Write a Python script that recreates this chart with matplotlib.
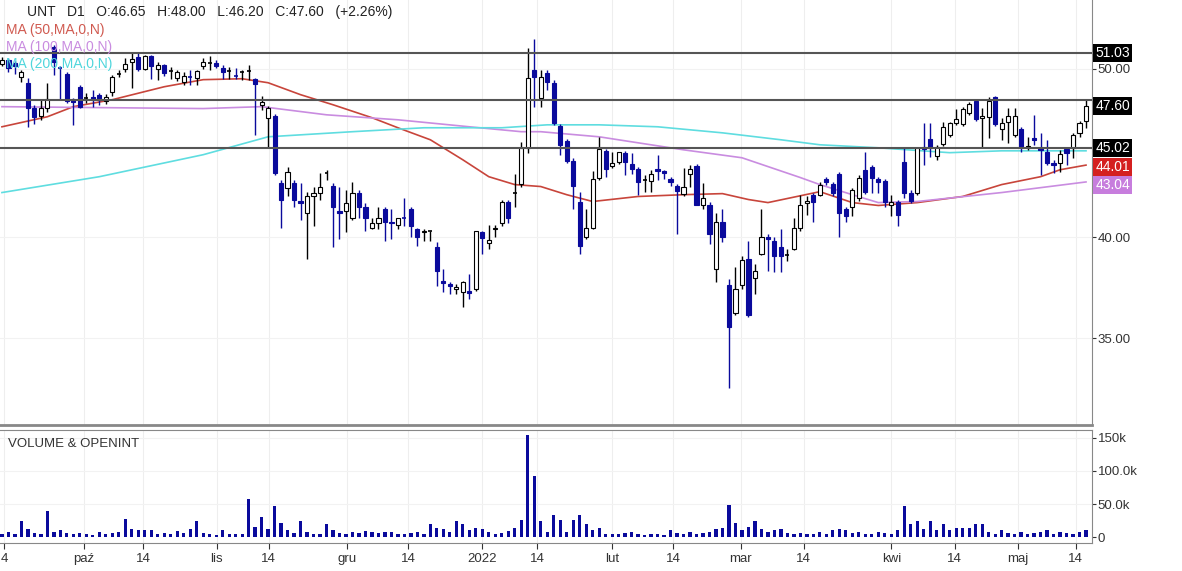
import matplotlib
matplotlib.use("Agg")
import matplotlib.pyplot as plt
import matplotlib.transforms as mtrans
import numpy as np

plt.rcParams['font.family'] = ['Liberation Sans', 'DejaVu Sans']

opens = [50.34,50.60,50.40,49.47,49.08,47.49,46.98,47.49,51.48,50.07,49.67,47.99,48.82,48.12,48.18,48.31,47.93,48.50,49.67,50.00,
 50.47,50.80,50.00,50.87,50.00,50.27,49.87,49.41,49.15,49.47,49.41,50.20,50.40,50.40,50.07,49.87,49.54,49.80,49.87,49.34,
 47.67,46.86,46.98,43.00,42.72,43.00,41.99,41.28,42.27,42.44,43.57,42.83,41.44,41.39,41.06,42.44,41.66,40.47,40.79,41.55,
 40.84,40.68,41.06,41.50,40.42,40.26,40.31,39.47,37.74,37.59,37.34,37.20,37.24,37.34,40.26,39.68,40.42,40.79,41.94,42.38,
 42.95,45.03,49.93,48.12,49.74,49.08,46.36,45.45,44.26,41.94,40.04,40.52,43.29,44.85,43.97,44.21,44.74,44.09,43.80,43.17,
 43.12,43.80,43.68,43.23,42.83,42.38,43.51,43.97,41.72,41.77,38.34,40.84,37.54,36.17,37.54,38.85,37.89,39.15,40.04,39.78,
 39.47,39.05,39.41,40.52,41.83,42.32,42.32,43.23,42.95,43.51,41.50,41.61,42.11,43.74,43.91,43.23,43.12,41.72,41.94,44.21,
 42.44,42.44,45.09,45.57,44.56,45.27,45.81,46.55,46.48,47.17,47.93,46.86,46.92,48.18,46.18,46.61,45.81,46.18,45.03,45.63,
 45.03,44.79,44.15,44.15,44.97,45.03,45.93,46.65]
highs = [50.80,50.74,50.53,49.93,49.41,47.67,47.99,49.08,51.62,50.20,49.80,48.12,48.95,48.44,48.63,48.44,48.37,49.60,49.93,50.74,
 51.14,51.08,50.94,50.94,50.47,50.34,50.13,49.93,49.80,49.93,49.93,50.74,50.87,50.60,50.27,50.13,50.07,49.93,50.27,49.41,
 48.25,47.61,47.11,43.17,43.91,43.17,43.00,42.49,42.78,43.57,43.74,43.00,42.78,42.60,43.06,42.60,41.88,41.01,41.61,41.66,
 41.50,41.06,42.11,41.61,40.52,40.42,40.31,39.73,38.34,37.69,37.59,37.74,38.09,40.31,40.31,40.63,40.68,42.05,42.05,43.51,
 45.39,51.41,52.03,49.93,49.93,49.28,46.48,45.57,44.44,42.49,41.50,43.68,45.69,44.97,44.79,44.79,44.85,44.74,43.91,43.46,
 43.74,44.62,43.74,43.34,42.95,43.86,44.03,44.09,43.00,41.94,41.33,41.50,37.84,38.44,39.00,39.78,38.59,41.50,40.15,40.04,
 40.42,39.36,41.06,42.32,42.27,42.44,43.06,43.34,43.06,43.63,41.61,42.72,43.46,44.79,44.03,43.34,43.23,42.32,42.05,45.03,
 42.60,45.03,46.55,46.55,45.21,46.61,46.61,47.43,47.55,47.87,48.06,47.49,48.18,48.25,46.86,47.49,47.49,46.30,45.69,47.04,
 45.93,45.51,44.32,44.91,45.09,45.93,46.67,48.00]
lows = [50.20,49.80,49.67,49.15,46.30,46.48,46.73,47.24,49.60,47.99,47.80,46.42,47.49,47.80,47.55,47.67,47.74,48.25,49.47,49.80,
 48.76,49.87,49.93,49.34,49.28,49.54,49.34,49.21,48.95,48.95,48.95,50.00,49.93,50.07,49.34,49.34,49.34,49.28,49.28,45.81,
 47.36,45.03,43.46,40.52,42.22,41.61,40.95,38.85,40.58,42.05,43.17,39.47,39.89,40.26,40.95,41.06,40.31,40.42,40.42,39.78,
 39.89,40.42,40.58,40.04,39.52,39.78,39.78,37.49,37.20,37.10,37.10,36.46,36.85,37.24,39.10,39.36,40.04,40.58,40.79,41.66,
 42.78,44.74,47.55,47.55,48.63,46.42,44.62,44.15,41.50,39.10,39.89,40.42,43.17,43.34,43.86,44.09,43.46,43.51,42.32,42.49,
 42.49,43.17,43.23,42.83,40.15,42.27,42.78,41.72,41.50,39.62,37.69,39.73,32.77,36.08,37.34,35.98,37.10,39.05,38.24,38.19,
 38.19,38.74,39.31,40.31,41.22,40.84,42.22,42.89,42.27,40.04,40.84,41.12,41.99,42.38,42.44,42.44,41.61,41.12,40.58,42.11,
 41.83,42.32,44.03,44.50,44.32,45.15,45.69,46.42,46.36,47.04,46.67,45.03,45.63,46.36,45.51,45.33,45.69,44.79,44.91,45.21,
 43.46,44.03,43.57,43.63,44.03,44.44,45.69,46.20]
closes = [50.60,50.07,50.20,49.80,47.49,46.92,47.49,48.06,50.47,50.00,47.93,47.87,47.55,48.12,47.99,47.99,48.18,49.47,49.67,50.34,
 50.67,50.00,50.87,50.20,50.27,49.74,49.87,49.80,49.54,49.41,49.87,50.47,50.40,50.20,49.80,49.87,49.47,49.80,49.87,49.02,
 47.87,47.49,43.57,42.05,43.63,42.05,41.88,42.22,42.44,42.78,43.57,41.66,41.33,41.83,42.44,41.66,41.06,40.79,41.01,40.84,
 40.74,41.01,41.01,40.58,40.04,40.36,40.31,38.24,37.64,37.49,37.44,37.69,37.15,40.31,39.94,39.84,40.52,41.94,41.06,42.44,
 45.03,49.41,49.47,49.47,49.15,46.55,45.21,44.26,42.83,39.52,40.47,43.23,44.97,43.80,44.15,44.79,44.21,43.80,43.06,43.17,
 43.51,43.68,43.57,43.06,42.55,42.78,43.80,41.77,42.11,40.15,40.84,39.99,35.51,37.34,38.80,36.08,38.24,40.04,39.89,39.00,
 39.00,39.05,40.47,41.77,41.99,41.94,42.89,43.06,42.44,41.33,41.12,42.60,43.29,42.49,43.29,43.06,41.94,41.94,41.22,42.44,
 41.99,45.03,44.97,45.03,45.09,46.30,46.55,46.79,47.43,47.74,46.79,46.98,47.93,46.48,46.55,46.98,46.98,45.09,45.15,45.51,
 44.91,44.15,44.03,44.68,44.74,45.81,46.55,47.60]

volume_k = [4,8,5,24,12,6,4,40,8,10,6,4,6,5,3,8,4,6,7,28,
 12,10,11,10,5,6,4,9,6,12,25,6,5,3,11,4,4,4,58,15,
 31,12,47,22,10,6,25,8,5,4,20,10,6,4,7,6,9,8,6,7,
 8,5,4,6,8,5,19,13,12,8,24,20,10,14,12,7,4,6,9,14,
 26,155,93,24,8,33,26,8,26,33,19,10,14,5,4,5,6,7,4,3,
 4,5,3,10,6,5,8,4,6,7,12,14,49,22,10,15,24,12,8,10,
 12,6,4,6,5,4,7,5,11,12,10,6,8,5,4,8,6,5,10,47,
 20,24,12,24,10,19,10,13,14,13,19,19,7,5,10,6,4,8,5,6,
 7,10,5,7,6,5,7,10]

ma50_idx = [0,7,11,17,25,31,37,41,46,51,57,61,66,71,75,79,83,87,91,98,105,111,115,118,126,131,135,141,148,154,160,163,167]
ma50_val = [46.30,46.92,47.55,47.99,48.82,49.28,49.34,49.08,48.31,47.67,46.86,46.24,45.51,44.32,43.34,42.89,42.78,42.32,41.94,42.22,
 42.32,42.38,42.05,41.88,42.49,41.88,41.72,41.88,42.22,42.89,43.34,43.74,44.01]
ma100_idx = [0,15,31,40,50,61,72,80,83,92,105,114,123,126,131,135,141,154,167]
ma100_val = [47.55,47.49,47.43,47.55,47.04,46.73,46.30,46.00,46.00,45.69,44.91,44.44,43.29,42.89,42.32,41.88,41.94,42.44,43.04]
ma200_idx = [0,15,31,41,54,65,77,84,92,101,111,120,126,135,146,154,167]
ma200_val = [42.44,43.34,44.62,45.69,46.00,46.24,46.24,46.42,46.42,46.30,45.93,45.51,45.21,45.03,44.74,44.85,44.85]

level_lines = [51.03, 48.0, 45.02]
price_ticks = [35.0, 40.0, 50.0]
x_tick_pos = [0.3, 12.6, 21.8, 33.1, 41.1, 53.1, 62.6, 74.0, 82.5, 94.0, 103.4, 113.8, 123.5, 137.0, 146.8, 156.5, 165.4]
x_tick_lab = ['4', 'paź', '14', 'lis', '14', 'gru', '14', '2022', '14', 'lut', '14', 'mar', '14', 'kwi', '14', 'maj', '14']

W, H = 1182, 571
fig = plt.figure(figsize=(W/100, H/100), dpi=100)
right = 1092 / W
ax = fig.add_axes([0, 1 - 425/H, right, 425/H])
axv = fig.add_axes([0, 1 - 543/H, right, 113/H], sharex=ax)

BLUE = '#0a0a9c'
n = len(closes)
xs = np.arange(n)
ax.set_yscale('log')
ax.set_ylim(31.2, 54.76)
ax.set_xlim(-0.3, 167 + (1092 - 1086) / 6.5)

for i in range(n):
    o, h, l, c = opens[i], highs[i], lows[i], closes[i]
    down = c < o
    col = BLUE if down else 'black'
    ax.vlines(i, l, h, color=col, lw=1, zorder=3)
    lo, hi = min(o, c), max(o, c)
    if hi / lo < 1.002:
        ax.hlines((o + c) / 2, i - 0.3, i + 0.3, color=col, lw=1.2, zorder=4)
    else:
        ax.add_patch(plt.Rectangle((i - 0.32, lo), 0.64, hi - lo,
                                   facecolor=BLUE if down else 'white',
                                   edgecolor=col, lw=0.8, zorder=4))

ax.plot(ma50_idx, ma50_val, color='#c8453b', lw=1.2, zorder=2)
ax.plot(ma100_idx, ma100_val, color='#c98ce0', lw=1.2, zorder=2)
ax.plot(ma200_idx, ma200_val, color='#5fdde0', lw=1.2, zorder=2)
for lv in level_lines:
    ax.axhline(lv, color='#555555', lw=1.5, zorder=5)

for a in (ax, axv):
    for p in x_tick_pos:
        a.axvline(p, color='#eeeeee', lw=0.8, zorder=0)
    for s in ['left', 'top']:
        a.spines[s].set_visible(False)
    a.spines['right'].set_color('#888888')
    a.spines['bottom'].set_color('#888888')
    a.yaxis.tick_right()
    a.tick_params(axis='y', labelsize=9.5, colors='#333333', length=3, pad=1)
for p in price_ticks:
    ax.axhline(p, color='#f2f2f2', lw=0.8, zorder=0)
ax.set_yticks(price_ticks)
ax.set_yticklabels(['%.2f' % v for v in price_ticks])
ax.yaxis.set_minor_locator(matplotlib.ticker.NullLocator())
ax.yaxis.set_minor_formatter(matplotlib.ticker.NullFormatter())
ax.tick_params(axis='x', bottom=False, labelbottom=False)
ax.spines['bottom'].set_linewidth(2)

tr = mtrans.blended_transform_factory(ax.transAxes, ax.transData)
labels = [(51.03, '51.03', 'black'), (47.60, '47.60', 'black'), (45.02, '45.02', 'black'),
          (44.01, '44.01', '#d42020'), (43.04, '43.04', '#c77ddd')]
for v, t, c in labels:
    yy = v
    if t == '44.01':
        yy = 43.92
    if t == '43.04':
        yy = 42.85
    ax.text(1.003, yy, t, transform=tr, color='white', fontsize=10, va='center', ha='left',
            clip_on=False, bbox=dict(boxstyle='square,pad=0.15', fc=c, ec='none'), zorder=10)

axv.bar(xs, volume_k, width=0.5, color=BLUE)
axv.set_ylim(-9, 162)
axv.set_yticks([0, 50, 100, 150])
axv.set_yticklabels(['0', '50.0k', '100.0k', '150k'])
for v in [50, 100, 150]:
    axv.axhline(v, color='#f2f2f2', lw=0.8, zorder=0)
axv.set_xticks(x_tick_pos)
axv.set_xticklabels(x_tick_lab)
axv.tick_params(axis='x', labelsize=9.5, colors='#333333', length=4, pad=3)
axv.spines['top'].set_visible(True)
axv.spines['top'].set_color('#888888')
axv.text(0.007, 0.93, 'VOLUME & OPENINT', transform=axv.transAxes, fontsize=9.5, color='#333333', va='top')

fig.text(27/W, 1 - 12/H, 'UNT   D1   O:46.65   H:48.00   L:46.20   C:47.60   (+2.26%)',
         fontsize=10, color='#222222', va='center')
fig.text(6/W, 1 - 30/H, 'MA (50,MA,0,N)', fontsize=10, color='#d05a50', va='center')
fig.text(6/W, 1 - 47/H, 'MA (100,MA,0,N)', fontsize=10, color='#c98ce0', va='center')
fig.text(6/W, 1 - 64/H, 'MA (200,MA,0,N)', fontsize=10, color='#4fd6dc', va='center')

fig.savefig('out.png', dpi=100, facecolor='white')
